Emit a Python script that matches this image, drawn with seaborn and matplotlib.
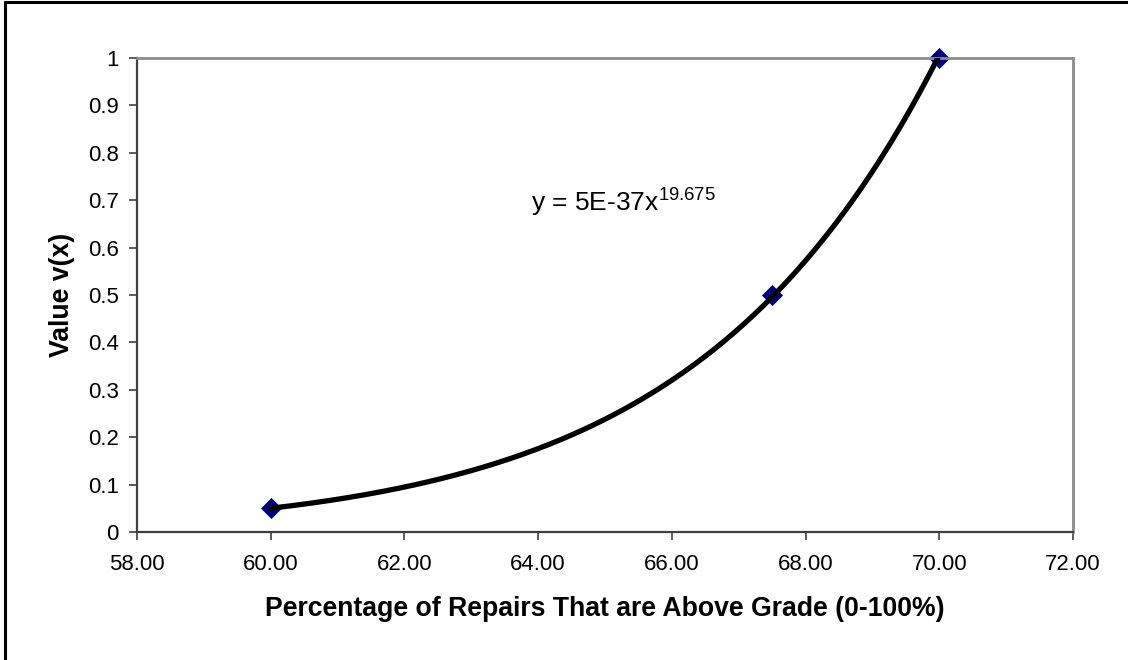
import numpy as np
import pandas as pd
import matplotlib
matplotlib.use("Agg")
import matplotlib.pyplot as plt
from matplotlib.ticker import FuncFormatter
from matplotlib.lines import Line2D
import seaborn as sns

# data
pct_above_grade = [60.0, 67.5, 70.0]
value_vx = [0.05, 0.5, 1.0]
equation_label = "y = 5E-37x"
equation_exp = "19.675"
x_ticks = [58, 60, 62, 64, 66, 68, 70, 72]
y_ticks = [0, 0.1, 0.2, 0.3, 0.4, 0.5, 0.6, 0.7, 0.8, 0.9, 1.0]

sns.set_theme(style="white")
plt.rcParams["font.family"] = ["Liberation Sans", "DejaVu Sans"]
plt.rcParams["mathtext.default"] = "regular"

fig = plt.figure(figsize=(11.28, 6.6), dpi=100)
ax = fig.add_axes([137 / 1128, 1 - 532 / 660, 936 / 1128, 474 / 660])

# power trendline fitted to the data (like Excel)
df = pd.DataFrame({"x": pct_above_grade, "y": value_vx})
b, loga = np.polyfit(np.log(df["x"]), np.log(df["y"]), 1)
xs = np.linspace(min(pct_above_grade), max(pct_above_grade), 200)
trend = pd.DataFrame({"x": xs, "y": np.exp(loga) * xs ** b})
sns.lineplot(data=trend, x="x", y="y", ax=ax, color="black", linewidth=3.8, zorder=3)
sns.scatterplot(data=df, x="x", y="y", ax=ax, marker="D", s=105, color="#000080",
                edgecolor="#000080", linewidth=0.5, zorder=2, clip_on=False)

ax.set_xlim(58, 72)
ax.set_ylim(0, 1)
ax.set_xticks(x_ticks)
ax.set_yticks(y_ticks)
ax.xaxis.set_major_formatter(FuncFormatter(lambda v, p: f"{v:.2f}"))
ax.yaxis.set_major_formatter(FuncFormatter(lambda v, p: f"{v:g}"))
ax.tick_params(axis="both", which="major", direction="out", length=6, width=1.2,
               color="#404040", labelsize=16, labelcolor="black",
               bottom=True, left=True)
ax.tick_params(axis="y", pad=7)
ax.tick_params(axis="x", pad=10)

for side in ["left", "bottom"]:
    ax.spines[side].set_color("#404040")
    ax.spines[side].set_linewidth(1.6)
for side in ["top", "right"]:
    ax.spines[side].set_visible(True)
    ax.spines[side].set_color("#8c8c8c")
    ax.spines[side].set_linewidth(2.0)

ax.set_xlabel("Percentage of Repairs That are Above Grade (0-100%)",
              fontsize=19.2, fontweight="bold", labelpad=15, color="black")
ax.set_ylabel("Value v(x)", fontsize=19.2, fontweight="bold", labelpad=9, color="black")

ax.text(63.9, 0.675, equation_label + r"$^{" + equation_exp + "}$",
        fontsize=19, va="baseline", ha="left", color="black")

# outer chart border (left and top visible)
fig.add_artist(Line2D([4.5 / 1128, 4.5 / 1128], [0, 1 - 2 / 660], transform=fig.transFigure,
                      color="black", linewidth=2.2))
fig.add_artist(Line2D([4.5 / 1128, 1], [1 - 2 / 660, 1 - 2 / 660], transform=fig.transFigure,
                      color="black", linewidth=2.2))

fig.savefig("out.png", dpi=100)
